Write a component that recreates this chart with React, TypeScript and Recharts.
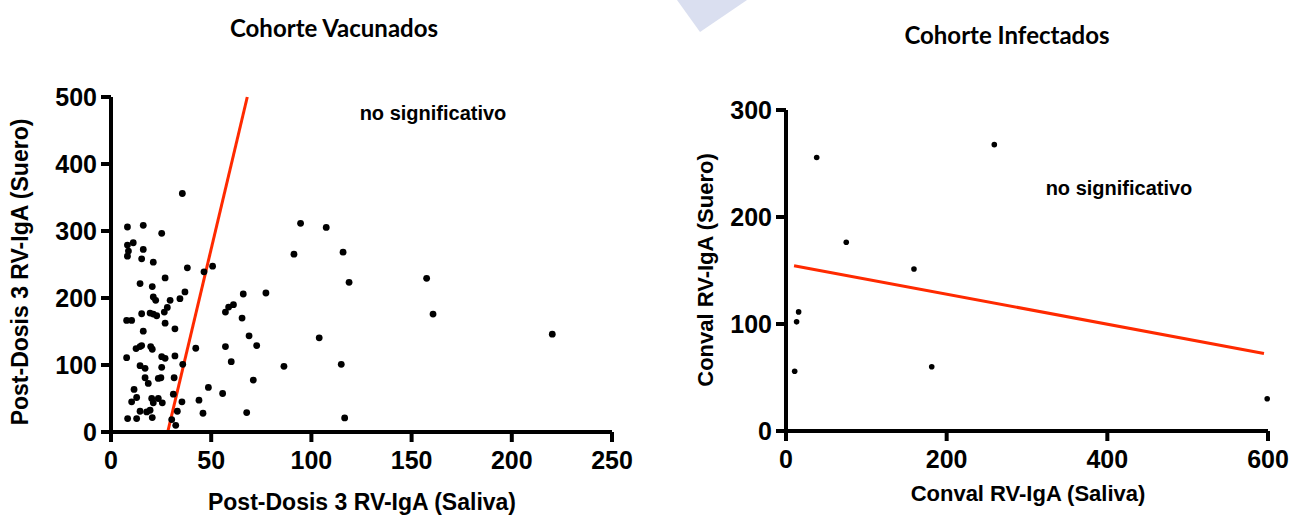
import { ScatterChart, Scatter, XAxis, YAxis, ReferenceLine } from "recharts"

// Vaccinated cohort: post-dose 3 RV-IgA, saliva vs serum
const vacSaliva = [
  35.6, 8.2, 16.1, 25.3, 8.2, 11.1, 8.7, 16.1, 8.2, 15.3, 21.1, 38.1, 46.4, 50.7, 27,
  14.5, 20.6, 21.1, 22.3, 29.5, 34.4, 36.9, 28.1, 26.6, 15.3, 19.5, 21.1, 22.8, 7.8, 10.3,
  27, 16.1, 31.9, 12.5, 14.5, 15.3, 19.8, 20.6, 7.8, 25.3, 27, 31.9, 14.5, 17, 25.3,
  35.8, 42.3, 17, 18.6, 23.6, 24.9, 31.5, 11.5, 12.8, 10.3, 20.3, 21.1, 23.6, 25.6, 31.1,
  35.4, 14.5, 12.8, 8.3, 17.8, 19.5, 20.6, 33.1, 30.3, 32.3, 43.9, 45.9, 48.6, 55.7, 67.7,
  71, 57.1, 60, 68.9, 72.7, 65.4, 66, 58.7, 61.1, 57.1, 94.6, 107.4, 91.3, 115.8, 118.8,
  77.3, 157.5, 160.7, 220.2, 103.9, 86.3, 114.9, 116.6,
]
const vacSerum = [
  356, 306, 308.5, 296.5, 279, 282.5, 270, 272.5, 262.5, 258.5, 253.5, 245, 239, 247.5, 230,
  221.5, 217, 201.5, 196.5, 196.5, 199, 209, 186, 179, 176.5, 177.5, 176, 173.5, 166.5, 166.5,
  162.5, 150.5, 154, 124.5, 127.5, 129, 127.5, 123.5, 111, 112.5, 110, 113.5, 99, 95, 96.5,
  101, 125, 81, 72.5, 80, 81, 81, 63.5, 51.5, 45, 50, 43.5, 50, 43.5, 56.5,
  45, 31, 20, 20, 30, 32.5, 21.5, 31, 18.5, 10, 47.5, 28, 66.5, 57.5, 29,
  77.5, 127.5, 105, 143.5, 129, 170, 206, 186.5, 190, 179, 311.4, 305.4, 265.4, 268.4, 223.4,
  207.5, 229.4, 176, 146, 140.5, 98, 101, 21,
]

// Infected cohort: convalescent RV-IgA, saliva vs serum
const infSaliva = [38.2, 259.3, 75, 159.3, 15.7, 13.2, 10.8, 181.4, 599]
const infSerum = [255.6, 267.6, 176.4, 151.4, 111.3, 102, 55.8, 60.1, 30.2]

// regression lines (end points)
const vacFit = [{ x: 28.3, y: 0 }, { x: 68, y: 500 }]
const infFit = [{ x: 10, y: 154.5 }, { x: 595, y: 72.5 }]

const vacXTicks = [0, 50, 100, 150, 200, 250]
const vacYTicks = [0, 100, 200, 300, 400, 500]
const infXTicks = [0, 200, 400, 600]
const infYTicks = [0, 100, 200, 300]

const vacData = vacSaliva.map((x, i) => ({ x, y: vacSerum[i] }))
const infData = infSaliva.map((x, i) => ({ x, y: infSerum[i] }))

const SANS = "'Liberation Sans', Arial, sans-serif"
const TITLE = "Lato, 'Open Sans', sans-serif"
const RED = "#ff2a00"

const axisLine = { stroke: "#000", strokeWidth: 4 }
const tickStyle = { fill: "#000", fontSize: 25, fontWeight: 700, fontFamily: SANS }

const Dot = (r: number) => (props: any) => (
  <circle cx={props.cx} cy={props.cy} r={r} fill="#000" />
)

const text = (extra: React.CSSProperties): React.CSSProperties => ({
  position: "absolute",
  whiteSpace: "nowrap",
  color: "#000",
  fontFamily: SANS,
  fontWeight: 700,
  transform: "translate(-50%, -50%)",
  ...extra,
})

export default function App() {
  return (
    <div style={{ position: "absolute", left: 0, top: 0, width: 1300, height: 515, background: "#fff", overflow: "hidden" }}>
      <svg width={1300} height={60} style={{ position: "absolute", left: 0, top: 0 }}>
        <polygon points="677,0 747,0 700,32" fill="#dadff0" />
      </svg>

      <div style={{ position: "absolute", left: 0, top: 0 }}>
        <ScatterChart width={640} height={515} margin={{ top: 97, right: 28, bottom: 0, left: 0 }}>
          <XAxis
            type="number"
            dataKey="x"
            domain={[0, 250]}
            ticks={vacXTicks}
            axisLine={axisLine}
            tickLine={axisLine}
            tickSize={10}
            tickMargin={9}
            tick={tickStyle}
            height={83}
          />
          <YAxis
            type="number"
            dataKey="y"
            domain={[0, 500]}
            ticks={vacYTicks}
            axisLine={axisLine}
            tickLine={axisLine}
            tickSize={10}
            tickMargin={4}
            tick={tickStyle}
            width={111}
          />
          <Scatter data={vacData} shape={Dot(3.4)} isAnimationActive={false} />
          <ReferenceLine segment={vacFit} stroke={RED} strokeWidth={3} ifOverflow="visible" />
        </ScatterChart>
      </div>

      <div style={{ position: "absolute", left: 650, top: 0 }}>
        <ScatterChart width={650} height={515} margin={{ top: 110, right: 32, bottom: 0, left: 0 }}>
          <XAxis
            type="number"
            dataKey="x"
            domain={[0, 600]}
            ticks={infXTicks}
            axisLine={axisLine}
            tickLine={axisLine}
            tickSize={10}
            tickMargin={9}
            tick={tickStyle}
            height={84}
          />
          <YAxis
            type="number"
            dataKey="y"
            domain={[0, 300]}
            ticks={infYTicks}
            axisLine={axisLine}
            tickLine={axisLine}
            tickSize={10}
            tickMargin={4}
            tick={tickStyle}
            width={136}
          />
          <Scatter data={infData} shape={Dot(2.8)} isAnimationActive={false} />
          <ReferenceLine segment={infFit} stroke={RED} strokeWidth={3} ifOverflow="visible" />
        </ScatterChart>
      </div>

      <div style={text({ left: 334, top: 27, fontSize: 24, fontFamily: TITLE })}>Cohorte Vacunados</div>
      <div style={text({ left: 1007, top: 34, fontSize: 24, fontFamily: TITLE })}>Cohorte Infectados</div>

      <div style={text({ left: 433, top: 113, fontSize: 20 })}>no significativo</div>
      <div style={text({ left: 1119, top: 188, fontSize: 20 })}>no significativo</div>

      <div style={text({ left: 362, top: 502, fontSize: 23 })}>Post-Dosis 3 RV-IgA (Saliva)</div>
      <div style={text({ left: 20, top: 272, fontSize: 23, transform: "translate(-50%, -50%) rotate(-90deg)" })}>
        Post-Dosis 3 RV-IgA (Suero)
      </div>

      <div style={text({ left: 1028, top: 494, fontSize: 22 })}>Conval RV-IgA (Saliva)</div>
      <div style={text({ left: 706, top: 270, fontSize: 22, transform: "translate(-50%, -50%) rotate(-90deg)" })}>
        Conval RV-IgA (Suero)
      </div>
    </div>
  )
}
